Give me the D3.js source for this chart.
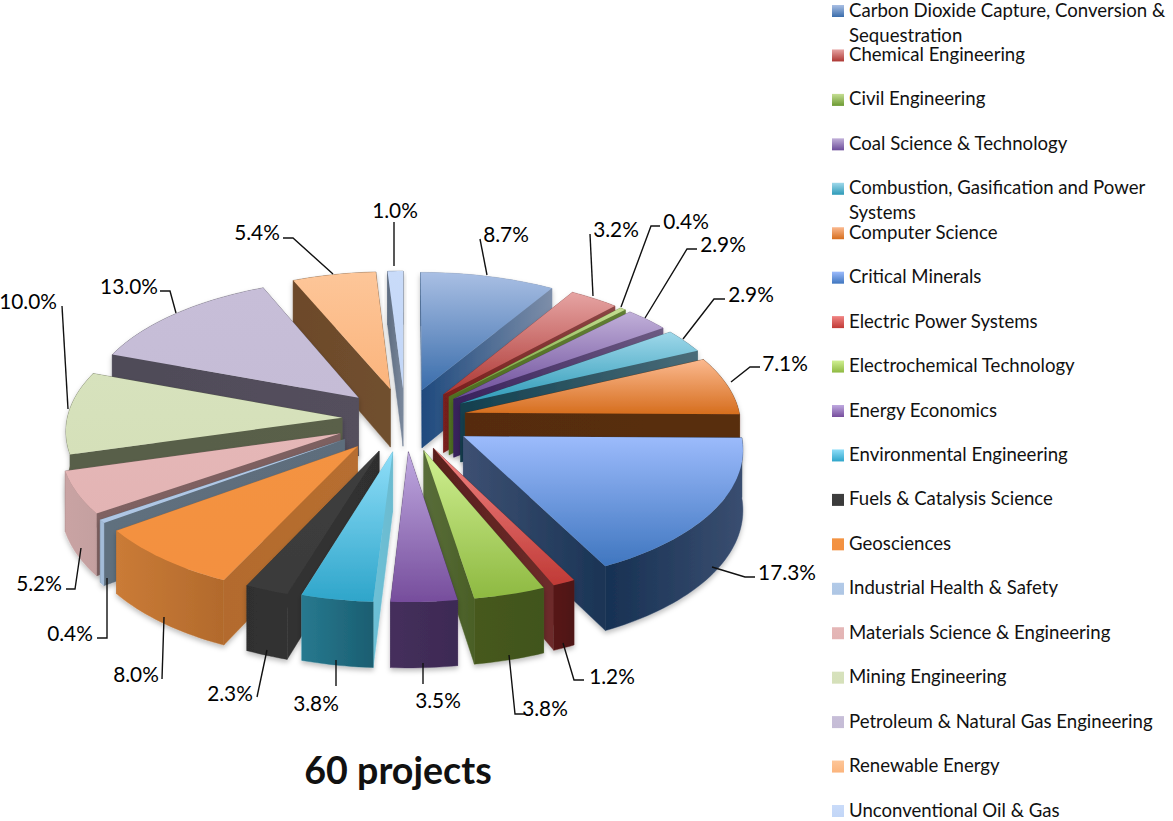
<!DOCTYPE html>
<html><head><meta charset="utf-8">
<script src="https://cdn.jsdelivr.net/npm/d3@7"></script>
<style>html,body{margin:0;padding:0;background:#fff}svg{display:block;font-family:Lato,"Open Sans",sans-serif}</style>
</head><body><div id="chart"></div>
<script>
const categories=["Carbon Dioxide Capture, Conversion & Sequestration","Chemical Engineering","Civil Engineering","Coal Science & Technology","Combustion, Gasification and Power Systems","Computer Science","Critical Minerals","Electric Power Systems","Electrochemical Technology","Energy Economics","Environmental Engineering","Fuels & Catalysis Science","Geosciences","Industrial Health & Safety","Materials Science & Engineering","Mining Engineering","Petroleum & Natural Gas Engineering","Renewable Energy","Unconventional Oil & Gas"];
const shares=[8.7,3.2,0.4,2.9,2.9,7.1,17.3,1.2,3.8,3.5,3.8,2.3,8.0,0.4,5.2,10.0,13.0,5.4,1.0];
const chartTitle="60 projects";
// styling, parallel to the categories
const explosion=[64,65,65,65,65,62,68,66,67,67,68,70,73,73,71,63,65,65,65];
const topColors=[["#a9bfe4","#3a6dab"],["#e6a4a3","#ad3733"],["#c5de93","#6c9a32"],["#c1b0d9","#6c4c9a"],["#9fd8ea","#2d9ab8"],["#fbb98f","#d66e1e"],["#9cbbfc","#3f76bf"],["#f18483","#c03a36"],["#d0f092","#8eb941"],["#bfa9e0","#764d9c"],["#8fdef9","#2ea5ca"],["#3e3e3e","#3a3a3a"],["#f39342","#f39040"],["#b2cae8","#aec6e4"],["#e5b7b7","#e3b4b4"],["#d7e2bd","#d5e0b9"],["#c7bed8","#c5bcd6"],["#fdc699","#fbb47c"],["#c9dbf9","#c2d6f7"]];
const radialColors=[["#1f4a7e","#7d8ea9"],["#7a1f1c","#8b4645"],["#4f6e22","#627f34"],["#38215c","#6d5b82"],["#123f4e","#4a6c79"],["#562c0e","#592e10"],["#3d5072","#1a3455"],["#5a1f1d","#6d2c2a"],["#596d3a","#4a5f26"],["#3f2c55","#3f2c55"],["#6cc0d6","#6cbbd0"],["#333333","#2f2f2f"],["#b36b2d","#b76e30"],["#5f6f7e","#5d6d7c"],["#7f6262","#7d6060"],["#585e48","#5a604a"],["#4f4b58","#544f5d"],["#6d492a","#70502f"],["#5e6c80","#7a889c"]];
const arcColors=[["#7d8ea9","#7d8ea9"],["#8b4645","#8b4645"],["#627f34","#627f34"],["#6d5b82","#6d5b82"],["#4a6c79","#4a6c79"],["#592e10","#592e10"],["#173153","#3a4e70"],["#571918","#4e1716"],["#46591f","#41541e"],["#452f5c","#3d2a54"],["#27798f","#1b5e71"],["#2f2f2f","#333333"],["#ca7b37","#b26a2c"],["#a3bcd8","#a3bcd8"],["#c9a3a3","#c4a0a0"],["#585e48","#585e48"],["#4f4b58","#4f4b58"],["#6d492a","#6d492a"],["#5e6c80","#5e6c80"]];
// annotation layout: text anchor and leader for each slice
const labelAt=[[506,233],[616,228],[686,220],[723,243],[751,293],[785,362],[787,571],[612,675],[545,707],[438,699],[316,702],[230,692],[136,673],[70,632],[39,582],[28,300],[129,285],[257,231],[395,209]];
const leaders=[[[487,275],[480,239]],[[593,296],[590,234]],[[621,307],[651,226],[660,226]],[[645,318],[687,249],[697,249]],[[683,339],[714,299],[725,299]],[[731,382],[750,367],[760,367]],[[712,567],[745,577],[755,577]],[[563,643],[574,680],[584,680]],[[509,655],[515,714],[525,714]],[[423,663],[423,684]],[[336,660],[336,686]],[[267,650],[257,697]],[[164,617],[162,679]],[[107,578],[107,638],[97,638]],[[81,548],[75,589],[66,589]],[[68,409],[62,306]],[[176,313],[170,291],[160,291]],[[333,274],[293,238],[283,238]],[[394,266],[394,222]]];

const W=1173,H=821;
const CX=405,CY=419,R=275,DEPTH=3300,KY=.48,THICK=59;
const svg=d3.select("#chart").append("svg").attr("width",W).attr("height",H).attr("viewBox",[0,0,W,H]);
const defs=svg.append("defs");
const f=defs.append("filter").attr("id","soft").attr("x","-20%").attr("y","-20%").attr("width","140%").attr("height","140%");
f.append("feDropShadow").attr("dx",0).attr("dy",3).attr("stdDeviation",2.5).attr("flood-color","#000").attr("flood-opacity",.25);

function gradient(id,cols,vertical){
  const g=defs.append("linearGradient").attr("id",id).attr("x1",0).attr("y1",0).attr("x2",vertical?0:1).attr("y2",vertical?1:0);
  g.append("stop").attr("offset",0).attr("stop-color",cols[0]);
  g.append("stop").attr("offset",1).attr("stop-color",cols[1]);
}
categories.forEach((c,i)=>{gradient("top"+i,topColors[i],true);gradient("rad"+i,radialColors[i],false);gradient("arc"+i,arcColors[i],false);});

const pie=d3.pie().sort(null).value(d=>d);
const arcs=pie(shares);
function project(X,Y,drop=0){
  const g=DEPTH/(DEPTH-Y);
  return [CX+X*g,CY+KY*Y*g+drop*g];
}
function slicePts(a,i,drop){
  const mid=(a.startAngle+a.endAngle)/2, ox=explosion[i]*Math.sin(mid), oy=-explosion[i]*Math.cos(mid);
  const steps=Math.max(3,Math.ceil((a.endAngle-a.startAngle)*40));
  return {apex:project(ox,oy,drop),
    rim:d3.range(steps+1).map(k=>{const t=a.startAngle+(a.endAngle-a.startAngle)*k/steps;return project(ox+R*Math.sin(t),oy-R*Math.cos(t),drop);})};
}
const line=d3.line();
const order=arcs.map((a,i)=>i).sort((p,q)=>{
  const m=a=>-Math.cos((a.startAngle+a.endAngle)/2);
  return m(arcs[p])-m(arcs[q]);
});
const pieG=svg.append("g");
order.forEach(i=>{
  const a=arcs[i],top=slicePts(a,i,0),bot=slicePts(a,i,THICK);
  const g=pieG.append("g").attr("filter","url(#soft)");
  const n=top.rim.length-1;
  const wallStart=[top.apex,top.rim[0],bot.rim[0],bot.apex];
  const wallEnd=[top.apex,top.rim[n],bot.rim[n],bot.apex];
  const outer=top.rim.concat(bot.rim.slice().reverse());
  const walls=[{p:wallStart,k:"rad"},{p:wallEnd,k:"rad"},{p:outer,k:"arc"}]
    .map(w=>({...w,d:d3.mean(w.p,q=>q[1])})).sort((u,v)=>u.d-v.d);
  walls.forEach(w=>g.append("path").attr("d",line(w.p)+"Z").attr("fill",`url(#${w.k}${i})`).attr("stroke",`url(#${w.k}${i})`).attr("stroke-width",.4));
  g.append("path").attr("d",line([top.apex,...top.rim])+"Z").attr("fill",`url(#top${i})`);
});

// leaders and percentage labels
const lg=svg.append("g");
leaders.forEach(l=>lg.append("path").attr("d",line(l)).attr("fill","none").attr("stroke","#111").attr("stroke-width",1.4));
shares.forEach((v,i)=>lg.append("text").attr("x",labelAt[i][0]).attr("y",labelAt[i][1]).attr("text-anchor","middle").attr("dominant-baseline","central").attr("font-size",20.8).attr("fill","#000").text(d3.format(".1f")(v)+"%"));

// title
svg.append("text").attr("x",398).attr("y",769).attr("text-anchor","middle").attr("dominant-baseline","central").attr("font-size",37.6).attr("font-weight",700).attr("fill","#111").text(chartTitle);

// legend
const legendY=d3.scalePoint().domain(categories).range([10,810]);
const leg=svg.append("g");
categories.forEach((c,i)=>{
  const y=legendY(c);
  leg.append("rect").attr("x",832).attr("y",y-5).attr("width",12).attr("height",12).attr("fill",`url(#top${i})`);
  const t=leg.append("text").attr("x",849).attr("y",y-.5).attr("dominant-baseline","central").attr("font-size",18.6).attr("fill","#111");
  let ts=t.append("tspan").attr("x",849),cur="";
  c.split(" ").forEach(w=>{
    const nxt=cur?cur+" "+w:w; ts.text(nxt);
    if(ts.node().getComputedTextLength()>324&&cur){ts.text(cur);ts=t.append("tspan").attr("x",849).attr("dy",25).text(w);cur=w;}
    else cur=nxt;
  });
});
</script></body></html>
